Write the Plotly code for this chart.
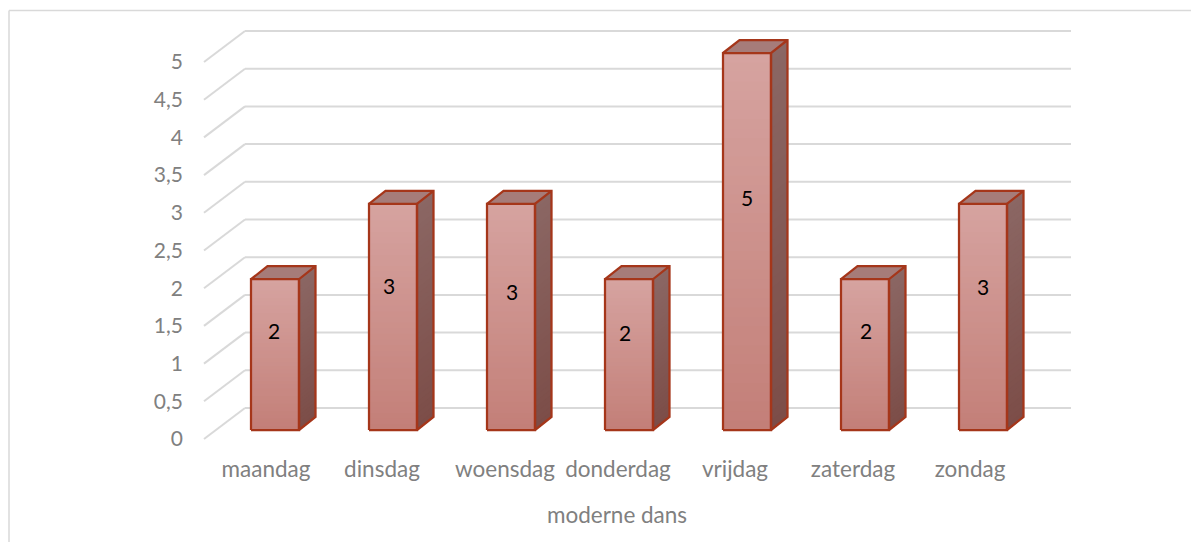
import plotly.graph_objects as go

categories = ["maandag", "dinsdag", "woensdag", "donderdag", "vrijdag", "zaterdag", "zondag"]
values = [2, 3, 3, 2, 5, 2, 3]
y_ticks = [0, 0.5, 1, 1.5, 2, 2.5, 3, 3.5, 4, 4.5, 5]
y_tick_labels = ["0", "0,5", "1", "1,5", "2", "2,5", "3", "3,5", "4", "4,5", "5"]
x_title = "moderne dans"

# pixel geometry of the pseudo-3D projection, in page pixels
PAGE_W, PAGE_H = 1199, 542
BODY = 8  # the page's body margin moves the figure by this much
W, H = PAGE_W - BODY, PAGE_H - BODY
PX_CAT, PX_UNIT = 118.0, 75.4
X_FRONT, Y_FRONT = 204.0 - BODY, 439.0 - BODY     # front-left floor corner
L, R, T, B = 150.0 - BODY, 1084.0 - BODY, 20.0 - BODY, 450.0 - BODY
WALL_DX, WALL_DY = 41.0, 31.0
BAR_OFF_X, BAR_OFF_Y = 12.0, 9.0
BAR_W = 48.0
BAR_DX, BAR_DY = 16.5, 13.0
N = 40
TICK_NUDGE = [3, 1, 6, 1, 0, 0, -1]

GRID = "#d9d9d9"
TXT = "#808080"
EDGE = "#a5361a"
FONT = "Lato"
FONT_SIZE = 21
X_FONT_SIZE = 22.5


def cx(px):
    return (px - X_FRONT) / PX_CAT - 0.5


def cy(px):
    return (Y_FRONT - px) / PX_UNIT


def lerp(a, b, t):
    c = [round(a[i] + (b[i] - a[i]) * t) for i in range(3)]
    return f"rgb({c[0]},{c[1]},{c[2]})"


dx_wall = WALL_DX / PX_CAT
dy_wall = WALL_DY / PX_UNIT
off_x = BAR_OFF_X / PX_CAT
off_y = BAR_OFF_Y / PX_UNIT
bw = BAR_W / PX_CAT
dx_bar = BAR_DX / PX_CAT
dy_bar = BAR_DY / PX_UNIT
xs = list(range(len(categories)))
xpos = [x + off_x for x in xs]

fig = go.Figure()

# gridlines below the bars: side wall + back wall
x_right = cx(1071 - BODY)
shapes = []
for v in y_ticks:
    shapes.append(dict(type="line", xref="x", yref="y", layer="below",
                       x0=-0.5, y0=v, x1=-0.5 + dx_wall, y1=v + dy_wall,
                       line=dict(color=GRID, width=2)))
    shapes.append(dict(type="line", xref="x", yref="y", layer="below",
                       x0=-0.5 + dx_wall, y0=v + dy_wall, x1=x_right, y1=v + dy_wall,
                       line=dict(color=GRID, width=2)))

# front faces: nested bars, lightest/tallest first, so the gradient has no seams
FRONT_TOP, FRONT_BOT = (214, 163, 160), (195, 127, 120)
for k in range(N, 0, -1):
    t = k / N
    fig.add_trace(go.Bar(
        x=xpos, y=[v * t for v in values], base=[off_y] * len(values),
        width=bw, marker=dict(color=lerp(FRONT_BOT, FRONT_TOP, (k - 0.5) / N), line=dict(width=0)),
        showlegend=False, hoverinfo="skip"))

# side and top faces
SIDE_TOP, SIDE_BOT = (139, 103, 100), (124, 77, 72)
TOP_FACE = "rgb(166,124,121)"
for x0, v in zip(xpos, values):
    xr = x0 + bw / 2
    xl = x0 - bw / 2
    for k in range(N, 0, -1):
        b = off_y + v * k / N
        col = lerp(SIDE_BOT, SIDE_TOP, (k - 0.5) / N)
        fig.add_trace(go.Scatter(
            x=[xr, xr + dx_bar, xr + dx_bar, xr, xr],
            y=[off_y, off_y + dy_bar, b + dy_bar, b, off_y],
            mode="lines", fill="toself", fillcolor=col, line=dict(width=0),
            hoverinfo="skip", showlegend=False))
    top = off_y + v
    fig.add_trace(go.Scatter(
        x=[xl, xr, xr + dx_bar, xl + dx_bar, xl],
        y=[top, top, top + dy_bar, top + dy_bar, top],
        mode="lines", fill="toself", fillcolor=TOP_FACE, line=dict(width=0),
        hoverinfo="skip", showlegend=False))
    # outlines
    fig.add_trace(go.Scatter(
        x=[xl, xr, xr, xl, xl],
        y=[off_y, off_y, top, top, off_y],
        mode="lines", line=dict(color=EDGE, width=2.25), hoverinfo="skip", showlegend=False))
    fig.add_trace(go.Scatter(
        x=[xl, xl + dx_bar, xr + dx_bar, xr + dx_bar, xr, xr, xr + dx_bar],
        y=[top, top + dy_bar, top + dy_bar, off_y + dy_bar, off_y, top, top + dy_bar],
        mode="lines", line=dict(color=EDGE, width=2.25), hoverinfo="skip", showlegend=False))

# data labels
label_dx = [-1, -4, 1, -4.5, 0, 1, 0]
label_dy = [24, 31, 25, 22, 44, 24, 30]
annotations = []
for x0, v, dx, dy in zip(xpos, values, label_dx, label_dy):
    annotations.append(dict(
        x=x0, y=off_y + v / 2, xref="x", yref="y", text=str(v), showarrow=False,
        xshift=dx, yshift=dy, font=dict(family=FONT, size=FONT_SIZE, color="#000000")))

PW, PH = R - L, B - T
left = 9 - BODY
top_line = 10.5 - BODY
shapes += [
    dict(type="line", xref="paper", yref="paper", x0=(left - L) / PW, x1=(left - L) / PW,
         y0=(B - H) / PH, y1=(B - top_line) / PH, line=dict(color=GRID, width=1.5)),
    dict(type="line", xref="paper", yref="paper", x0=(left - L) / PW, x1=(W - L) / PW,
         y0=(B - top_line) / PH, y1=(B - top_line) / PH, line=dict(color=GRID, width=1.5)),
]

fig.update_layout(
    width=W, height=H, autosize=False,
    margin=dict(l=L, r=W - R, t=T, b=H - B, pad=0),
    paper_bgcolor="white", plot_bgcolor="white",
    barmode="overlay", showlegend=False,
    font=dict(family=FONT, size=FONT_SIZE, color=TXT),
    annotations=annotations,
    shapes=shapes,
    xaxis=dict(
        range=[cx(L), cx(R)], tickmode="array",
        tickvals=[x + n / PX_CAT for x, n in zip(xs, TICK_NUDGE)], ticktext=categories,
        showgrid=False, zeroline=False, showline=False, ticks="", ticklabelstandoff=3,
        tickfont=dict(family=FONT, size=X_FONT_SIZE, color=TXT),
        title=dict(text=x_title, standoff=26, font=dict(family=FONT, size=X_FONT_SIZE, color=TXT)),
    ),
    yaxis=dict(
        range=[cy(B), cy(T)], tickmode="array", tickvals=y_ticks, ticktext=y_tick_labels,
        anchor="free", position=(190 - BODY - L) / PW,
        showgrid=False, zeroline=False, showline=False, ticks="", ticklabelstandoff=7,
        tickfont=dict(family=FONT, size=FONT_SIZE, color=TXT),
    ),
)

fig.write_html("out.html")
